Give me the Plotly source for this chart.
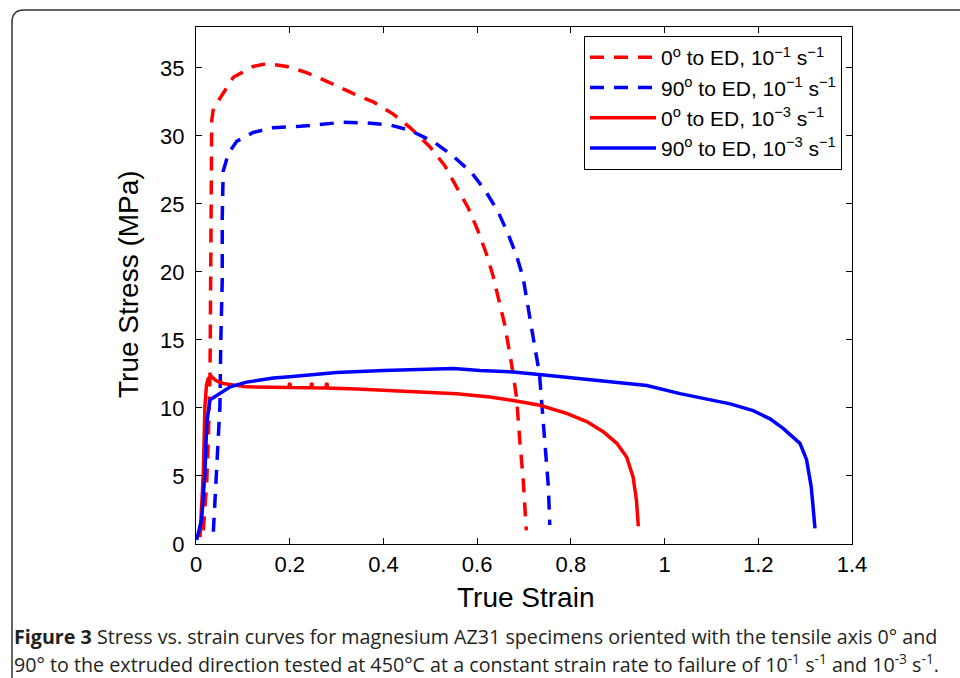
import plotly.graph_objects as go

# ---- data ----
red_dash_x = [0.0156, 0.0228, 0.0262, 0.0299, 0.031, 0.0314, 0.0335, 0.037, 0.0512, 0.0796, 0.122, 0.151,
              0.194, 0.236, 0.286, 0.336, 0.378, 0.421, 0.457, 0.499, 0.531, 0.556, 0.581, 0.602, 0.620,
              0.634, 0.645, 0.659, 0.674, 0.684, 0.691, 0.698, 0.704, 0.705]
red_dash_y = [1.0, 4.5, 7.6, 12.5, 17.9, 24.0, 31.1, 32.0, 32.8, 34.3, 35.1, 35.3,
              35.1, 34.65, 33.9, 33.1, 32.5, 31.6, 30.6, 29.2, 27.8, 26.3, 24.7, 23.0, 21.3,
              19.7, 18.1, 16.1, 13.1, 10.8, 7.6, 4.9, 1.5, 1.0]

blue_dash_x = [0.037, 0.044, 0.051, 0.053, 0.056, 0.056, 0.058, 0.069, 0.087, 0.122, 0.165, 0.222,
               0.272, 0.314, 0.364, 0.414, 0.457, 0.508, 0.549, 0.588, 0.617, 0.645, 0.666, 0.684,
               0.698, 0.706, 0.717, 0.733, 0.738, 0.745, 0.752, 0.755]
blue_dash_y = [0.9, 5.2, 10.1, 15.0, 19.4, 24.0, 27.4, 28.7, 29.6, 30.25, 30.6, 30.7,
               30.85, 31.0, 30.95, 30.8, 30.4, 29.55, 28.5, 27.3, 26.0, 24.4, 22.8, 21.2,
               19.6, 18.1, 15.7, 12.5, 10.3, 7.1, 4.2, 1.4]

red_solid_x = [0.0085, 0.012, 0.0156, 0.019, 0.0224, 0.026, 0.0335, 0.043, 0.058, 0.108, 0.13,
               0.198, 0.200, 0.202, 0.245, 0.247, 0.249, 0.277, 0.279, 0.281,
               0.343, 0.485, 0.556, 0.627, 0.677, 0.734, 0.791, 0.834, 0.869, 0.898, 0.919,
               0.933, 0.940, 0.944]
red_solid_y = [0.5, 2.5, 5.2, 10.1, 11.7, 12.15, 12.3, 12.0, 11.8, 11.55, 11.55,
               11.5, 11.85, 11.5, 11.48, 11.85, 11.48, 11.47, 11.85, 11.46,
               11.4, 11.2, 11.05, 10.8, 10.55, 10.2, 9.6, 9.0, 8.25, 7.4, 6.4,
               4.9, 3.2, 1.3]

blue_solid_x = [0.0015, 0.012, 0.019, 0.023, 0.030, 0.044, 0.073, 0.108, 0.165, 0.2, 0.3, 0.4,
                0.5, 0.55, 0.606, 0.677, 0.748, 0.819, 0.89, 0.962, 1.033, 1.104, 1.14, 1.189,
                1.225, 1.253, 1.289, 1.303, 1.313, 1.317, 1.321]
blue_solid_y = [0.3, 1.8, 5.2, 8.9, 10.6, 10.9, 11.55, 11.9, 12.2, 12.3, 12.6, 12.75,
                12.85, 12.9, 12.75, 12.65, 12.4, 12.15, 11.9, 11.65, 11.05, 10.55, 10.3, 9.8,
                9.2, 8.5, 7.4, 6.2, 4.2, 2.7, 1.15]

names = ["0<sup>o</sup> to ED, 10<sup>\u22121</sup> s<sup>\u22121</sup>",
         "90<sup>o</sup> to ED, 10<sup>\u22121</sup> s<sup>\u22121</sup>",
         "0<sup>o</sup> to ED, 10<sup>\u22123</sup> s<sup>\u22121</sup>",
         "90<sup>o</sup> to ED, 10<sup>\u22123</sup> s<sup>\u22121</sup>"]

x_ticks = [0, 0.2, 0.4, 0.6, 0.8, 1, 1.2, 1.4]
x_tick_text = ["0", "0.2", "0.4", "0.6", "0.8", "1", "1.2", "1.4"]
y_ticks = [0, 5, 10, 15, 20, 25, 30, 35]

caption1 = "<b>Figure 3</b> Stress vs. strain curves for magnesium AZ31 specimens oriented with the tensile axis 0° and"
caption2 = ("90° to the extruded direction tested at 450°C at a constant strain rate to failure of "
            "10<sup>-1</sup> s<sup>-1</sup> and 10<sup>-3</sup> s<sup>-1</sup>.")

RED = "#ff0000"
BLUE = "#0000ff"
LW = 3.5
DASH = "14px,10px"

fig = go.Figure()
fig.add_trace(go.Scatter(x=red_dash_x, y=red_dash_y, mode="lines", name=names[0],
                         line=dict(color=RED, width=LW, dash=DASH)))
fig.add_trace(go.Scatter(x=blue_dash_x, y=blue_dash_y, mode="lines", name=names[1],
                         line=dict(color=BLUE, width=LW, dash=DASH)))
fig.add_trace(go.Scatter(x=red_solid_x, y=red_solid_y, mode="lines", name=names[2],
                         line=dict(color=RED, width=LW)))
fig.add_trace(go.Scatter(x=blue_solid_x, y=blue_solid_y, mode="lines", name=names[3],
                         line=dict(color=BLUE, width=LW)))

# plot area geometry in pixels
L, R, T, B = 196, 852, 27, 544
W, H = 960, 678
pw, ph = R - L, B - T


def px(xp):
    return (xp - L) / pw


def py(yp):
    return (B - yp) / ph


FONT = "Liberation Sans, Arial, sans-serif"
axis_font = dict(family=FONT, size=22, color="black")

fig.update_layout(
    width=W, height=H,
    margin=dict(l=L, r=W - R, t=T, b=H - B, pad=0),
    paper_bgcolor="white", plot_bgcolor="white",
    font=dict(family=FONT, color="black"),
    showlegend=True,
    legend=dict(x=px(584), y=py(36), xanchor="left", yanchor="top",
                bordercolor="black", borderwidth=1, bgcolor="white",
                font=dict(family=FONT, size=21, color="black"),
                itemwidth=66, tracegroupgap=0),
    xaxis=dict(range=[0, 1.4], tickvals=x_ticks, ticktext=x_tick_text,
               showline=True, linecolor="black", linewidth=1, mirror="ticks",
               ticks="inside", ticklen=6, tickcolor="black", showgrid=False, zeroline=False,
               tickfont=axis_font, ticklabelstandoff=1),
    yaxis=dict(range=[0, 38], tickvals=y_ticks,
               showline=True, linecolor="black", linewidth=1, mirror="ticks",
               ticks="inside", ticklen=6, tickcolor="black", showgrid=False, zeroline=False,
               tickfont=axis_font, ticklabelstandoff=6),
)

# axis titles
fig.add_annotation(text="True Strain", xref="paper", yref="paper", x=px(525), y=py(597),
                   xanchor="center", yanchor="middle", showarrow=False,
                   font=dict(family=FONT, size=28, color="black"))
fig.add_annotation(text="True Stress (MPa)", xref="paper", yref="paper", x=px(128), y=py(284),
                   xanchor="center", yanchor="middle", showarrow=False, textangle=-90,
                   font=dict(family=FONT, size=28, color="black"))

# caption
cap_font = dict(family="Open Sans, Noto Sans, sans-serif", size=19.7, color="#231f20")
fig.add_annotation(text=caption1, xref="paper", yref="paper", x=px(12), y=py(636),
                   xanchor="left", yanchor="middle", showarrow=False, font=cap_font)
fig.add_annotation(text=caption2, xref="paper", yref="paper", x=px(12), y=py(663),
                   xanchor="left", yanchor="middle", showarrow=False, font=cap_font)

# outer rounded frame (top and left edges)
x0, xr = px(12), px(962)
yt, yb = py(10), py(690)
rx, ry = 12 / pw, 12 / ph
path = (f"M {x0},{yb} L {x0},{yt - ry} Q {x0},{yt} {x0 + rx},{yt} L {xr},{yt}")
fig.add_shape(type="path", path=path, xref="paper", yref="paper",
              line=dict(color="#333333", width=1.5), layer="below")

fig.write_html("out.html")
